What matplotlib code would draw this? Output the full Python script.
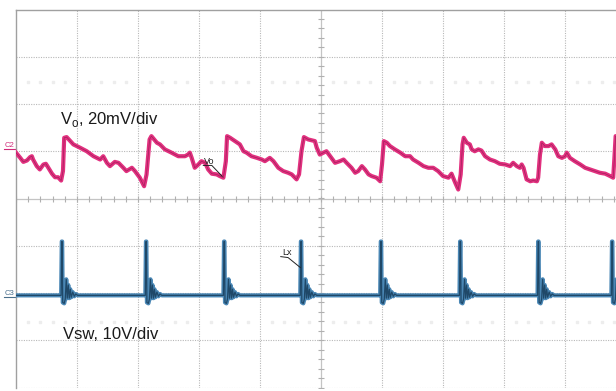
import numpy as np
import matplotlib.pyplot as plt

plt.rcParams['font.family'] = ['Liberation Sans', 'DejaVu Sans']
plt.rcParams['mathtext.fontset'] = 'custom'
plt.rcParams['mathtext.rm'] = 'Liberation Sans'

# Vo ripple, time in divisions, voltage in mV (20mV/div, C2 offset)
vo_time = [0.00, 0.07, 0.12, 0.18, 0.23, 0.26, 0.28, 0.34, 0.39, 0.45, 0.49, 0.53, 0.59, 0.64, 0.69,
           0.74, 0.77, 0.79, 0.83, 0.89, 0.94, 1.05, 1.16, 1.27, 1.38, 1.43, 1.49, 1.54, 1.62, 1.68,
           1.76, 1.81, 1.90, 1.95, 2.03, 2.10, 2.14, 2.19, 2.22, 2.31, 2.36, 2.44, 2.55, 2.66, 2.77,
           2.82, 2.85, 2.88, 2.93, 2.99, 3.04, 3.10, 3.15, 3.21, 3.29, 3.34, 3.40, 3.44, 3.46, 3.51,
           3.59, 3.67, 3.73, 3.78, 3.86, 3.95, 4.03, 4.08, 4.16, 4.22, 4.30, 4.38, 4.46, 4.52, 4.60,
           4.64, 4.68, 4.72, 4.79, 4.90, 4.93, 4.98, 5.04, 5.09, 5.15, 5.23, 5.31, 5.37, 5.42, 5.50,
           5.56, 5.61, 5.67, 5.72, 5.78, 5.83, 5.91, 5.97, 6.00, 6.03, 6.08, 6.13, 6.21, 6.30, 6.38,
           6.46, 6.51, 6.60, 6.68, 6.76, 6.84, 6.92, 7.00, 7.09, 7.14, 7.20, 7.25, 7.29, 7.32, 7.34,
           7.39, 7.44, 7.47, 7.52, 7.58, 7.63, 7.69, 7.77, 7.85, 7.93, 8.02, 8.10, 8.15, 8.21, 8.26,
           8.29, 8.32, 8.37, 8.43, 8.48, 8.54, 8.56, 8.59, 8.62, 8.67, 8.73, 8.78, 8.84, 8.89, 8.95,
           9.00, 9.03, 9.08, 9.16, 9.25, 9.33, 9.41, 9.49, 9.57, 9.66, 9.74, 9.79, 9.81, 9.83, 9.90]
vo_mv = [-2.2, -4.4, -6.1, -5.5, -4.1, -3.7, -5.1, -7.9, -9.3, -7.2, -6.9, -8.6, -11.1, -12.6, -12.6,
         -14.0, -10.0, 4.1, 4.4, 2.7, 1.3, -0.1, -1.6, -3.7, -5.1, -3.7, -6.5, -7.9, -6.1, -6.5,
         -8.6, -10.0, -8.6, -10.0, -12.8, -16.4, -11.4, 3.4, 4.8, 2.0, 1.3, -0.8, -2.2, -3.7, -3.7,
         -3.0, -2.2, -4.4, -8.6, -7.2, -5.8, -6.5, -9.3, -11.1, -11.4, -12.1, -12.8, -5.8, 4.8, 4.1,
         2.7, 1.3, -1.6, -2.2, -3.7, -4.4, -5.1, -5.8, -4.4, -5.8, -8.6, -10.0, -10.7, -11.4, -13.5,
         -11.4, -1.6, 4.4, 3.4, 2.7, -0.1, -3.0, -2.2, -1.6, -3.7, -6.5, -5.8, -5.1, -6.5, -8.6,
         -10.7, -10.0, -7.9, -9.3, -11.4, -12.1, -12.8, -14.3, -7.2, 2.7, 2.0, 0.6, -0.8, -2.2, -3.7,
         -3.7, -5.1, -6.5, -7.9, -8.6, -8.6, -10.0, -12.1, -12.8, -11.1, -14.9, -17.8, -11.4, 1.3, 4.1,
         2.0, 1.3, -0.8, -1.6, -0.8, -1.3, -3.7, -5.1, -5.8, -6.9, -7.2, -7.9, -6.5, -7.9, -8.6,
         -7.2, -8.6, -13.5, -14.3, -14.0, -14.3, -12.8, -3.0, 2.0, 0.6, 0.6, 1.3, -0.8, -3.7, -4.4,
         -3.7, -2.2, -4.4, -5.8, -7.2, -8.6, -9.3, -10.0, -10.7, -11.1, -12.1, -12.8, -4.4, 4.8, 3.6]

# Switch node, spike times (div) and the ringing shape after each edge
sw_edges = [0.75, 2.13, 3.41, 4.67, 5.98, 7.28, 8.56, 9.77]
ring_dt = [-0.01, 0.0, 0.007, 0.016, 0.04, 0.057, 0.074, 0.09, 0.107, 0.123, 0.14, 0.156, 0.18, 0.205, 0.23, 0.26]
ring_v = [0.0, 11.4, 11.4, -1.5, -1.7, -0.8, 3.4, -0.6, 2.2, -0.6, 1.3, -0.4, 0.7, -0.2, 0.3, 0.0]

vo_offset = 1.08    # C2 ground marker, div
vo_scale = 20.0     # mV/div
sw_offset = -2.05   # C3 ground marker, div
sw_scale = 10.0     # V/div

fig = plt.figure(figsize=(6.16, 3.91), dpi=100)
ax = fig.add_axes([16 / 616, 3.5 / 391, 610 / 616, 378 / 391])
ax.set_xlim(0, 10)
ax.set_ylim(-4, 4)
ax.set_xticks([])
ax.set_yticks([])
for s in ['right', 'bottom']:
    ax.spines[s].set_visible(False)
for s in ['left', 'top']:
    ax.spines[s].set_color('#a0a0a0')
    ax.spines[s].set_linewidth(1.0)

# graticule
grid_kw = dict(color='#b8b8b8', lw=0.8, linestyle=(0, (1, 1.2)), zorder=1)
for i in range(1, 10):
    if i != 5:
        ax.axvline(i, **grid_kw)
for j in range(-4, 4):
    if j != 0:
        ax.axhline(j, **grid_kw)
ax.axvline(5, color='#c4c4c4', lw=0.9, zorder=1)
ax.axhline(0, color='#c4c4c4', lw=0.9, zorder=1)
minor = np.arange(0, 10.01, 0.2)
ax.plot(minor, np.zeros_like(minor), ls='none', marker='|', ms=4.5, color='#b0b0b0', mew=0.8, zorder=1)
minor_y = np.arange(-4, 4.01, 0.2)
ax.plot(np.full_like(minor_y, 5), minor_y, ls='none', marker='_', ms=4.5, color='#b0b0b0', mew=0.8, zorder=1)

# faint leftover readout marks
faint = np.array([d + f for d in range(10) for f in (0.2, 0.4, 0.6, 0.8)])
for yy in (2.47, -2.62):
    ax.plot(faint, np.full_like(faint, yy), ls='none', marker='s', ms=1.6, color='#ededed', zorder=1)

# Vo trace
vo_y = vo_offset + np.array(vo_mv) / vo_scale
ax.plot(vo_time, vo_y, color='#e2307f', lw=3.0, zorder=3, solid_joinstyle='round')
ax.plot(vo_time, vo_y, color='#9c2058', lw=0.45, zorder=4)

# Vsw trace built from edges + ringing
sw_t = [0.0]
sw_v = [0.0]
for e in sw_edges:
    for dt, v in zip(ring_dt, ring_v):
        sw_t.append(e + dt)
        sw_v.append(v)
sw_t.append(10.0)
sw_v.append(0.0)
sw_y = sw_offset + np.array(sw_v) / sw_scale
ax.plot(sw_t, sw_y, color='#4a87b5', lw=3.0, zorder=3)
ax.plot(sw_t, sw_y, color='#1f4868', lw=0.9, zorder=4)

# channel markers (left of the graticule)
fig.text(5 / 616, 1 - 149 / 391, 'C2', color='#d02a78', fontsize=5.5, ha='left', va='bottom')
fig.text(5 / 616, 1 - 297 / 391, 'C3', color='#4a6f8c', fontsize=5.5, ha='left', va='bottom')
ax.plot([-0.2, 0.0], [vo_offset - 0.04, vo_offset - 0.04], color='#d02a78', lw=0.8, clip_on=False)
ax.plot([-0.2, 0.0], [sw_offset - 0.04, sw_offset - 0.04], color='#4a6f8c', lw=0.8, clip_on=False)

# probe labels with leaders
ax.text(3.08, 0.74, 'Vo', fontsize=6.5, color='#222222', zorder=5)
ax.plot([3.07, 3.21, 3.38], [0.70, 0.70, 0.47], color='#222222', lw=0.7, zorder=5)
ax.text(4.36, -1.19, 'Lx', fontsize=6.5, color='#222222', zorder=5)
ax.plot([4.34, 4.46, 4.66], [-1.23, -1.25, -1.46], color='#222222', lw=0.7, zorder=5)

# scale captions
ax.text(0.72, 1.57, r'V$_{\rm o}$, 20mV/div', fontsize=12, color='#1a1a1a', va='baseline', zorder=5)
ax.text(0.77, -2.98, 'Vsw, 10V/div', fontsize=12, color='#1a1a1a', va='baseline', zorder=5)

fig.savefig('out.png', dpi=100)
